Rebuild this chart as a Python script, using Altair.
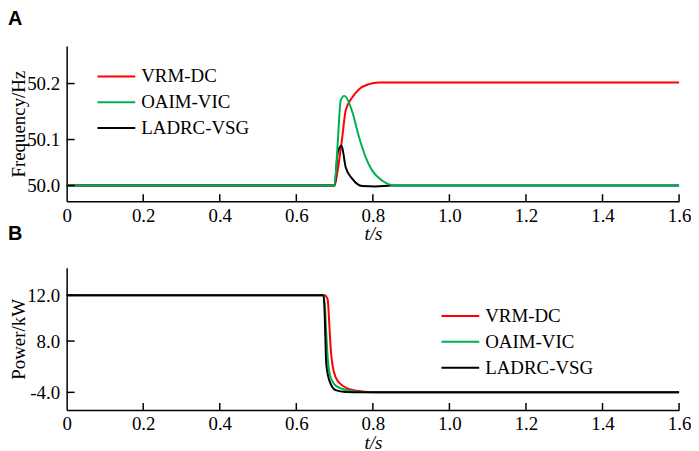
import altair as alt
import pandas as pd

series_names = ["VRM-DC", "OAIM-VIC", "LADRC-VSG"]
series_colors = ["#ff0000", "#00b050", "#000000"]

# ---- Panel A: frequency (Hz) vs t (s) ----
freq_t_vrm = [0.0, 0.700, 0.708, 0.720, 0.729, 0.746, 0.764, 0.790, 0.815, 0.850, 1.600]
freq_vrm = [50.0, 50.0, 50.033, 50.104, 50.152, 50.175, 50.190, 50.199, 50.202, 50.202, 50.202]

freq_t_oaim = [0.0, 0.700, 0.708, 0.716, 0.725, 0.735, 0.746, 0.764, 0.781, 0.798, 0.824, 0.860, 1.600]
freq_oaim = [50.0, 50.0, 50.090, 50.170, 50.178, 50.170, 50.150, 50.104, 50.062, 50.033, 50.011, 50.0, 50.0]

freq_t_ladrc = [0.0, 0.700, 0.708, 0.718, 0.729, 0.746, 0.772, 0.807, 0.850, 1.600]
freq_ladrc = [50.0, 50.0, 50.070, 50.087, 50.040, 50.015, 49.999, 49.998, 50.0, 50.0]

# ---- Panel B: power (kW) vs t (s) ----
pow_t_vrm = [0.0, 0.674, 0.682, 0.686, 0.690, 0.695, 0.703, 0.716, 0.733, 0.759, 0.790, 0.830, 1.600]
pow_vrm = [12.0, 12.0, 11.63, 9.60, 6.07, 2.19, -0.51, -2.07, -3.07, -3.63, -3.90, -4.0, -4.0]

pow_t_oaim = [0.0, 0.672, 0.677, 0.680, 0.684, 0.690, 0.699, 0.716, 0.742, 0.772, 0.820, 1.600]
pow_oaim = [12.0, 12.0, 9.60, 6.84, 2.19, -0.51, -2.07, -3.07, -3.63, -3.90, -4.0, -4.0]

pow_t_ladrc = [0.0, 0.671, 0.674, 0.676, 0.678, 0.683, 0.690, 0.703, 0.729, 0.770, 1.600]
pow_ladrc = [12.0, 12.0, 10.47, 8.15, 2.98, -0.14, -2.07, -3.47, -3.90, -4.0, -4.0]

# ---- axis ticks / labels ----
x_label_values = [0, 0.2, 0.4, 0.6, 0.8, 1.0, 1.2, 1.4, 1.6]
x_tick_values = [0.2, 0.4, 0.6, 0.8, 1.0, 1.2, 1.4, 1.6]
freq_tick_values = [50.0, 50.1, 50.2]
power_tick_values = [12.0, 8.0, -4.0]


def long_df(ts, vs):
    rows = []
    for name, t_list, v_list in zip(series_names, ts, vs):
        for t, v in zip(t_list, v_list):
            rows.append({"series": name, "t": t, "v": v})
    return pd.DataFrame(rows)


freq_df = long_df([freq_t_vrm, freq_t_oaim, freq_t_ladrc], [freq_vrm, freq_oaim, freq_ladrc])
pow_df = long_df([pow_t_vrm, pow_t_oaim, pow_t_ladrc], [pow_vrm, pow_oaim, pow_ladrc])

SERIF = "Liberation Serif"
FS = 19
W = 616

x_scale = alt.Scale(domain=[0, 1.6], nice=False, zero=False)
x_axis = alt.Axis(
    values=x_label_values,
    labelExpr="datum.value == 0 ? '0' : format(datum.value, '.1f')",
    ticks=False, grid=False, labelFlush=False, labelOverlap=False,
    labelPadding=5, labelFont=SERIF, labelFontSize=FS, labelColor="black",
    domainColor="black", domainWidth=1.5,
    title="t/s", titleFont=SERIF, titleFontSize=FS, titleFontStyle="italic",
    titleFontWeight="normal", titleColor="black", titlePadding=0,
)


def panel(df, height, y_domain, y_range, y_ticks, y_title, letter, letter_offset,
          leg_x, leg_y, draw_order):
    y_scale = alt.Scale(domain=y_domain, range=y_range, nice=False, zero=False)
    y_axis = alt.Axis(
        values=y_ticks,
        labelExpr="datum.value < 0 ? '-' + format(-datum.value, '.1f') : format(datum.value, '.1f')",
        ticks=False, grid=False, labelOverlap=False, labelFlush=False,
        labelPadding=7, labelFont=SERIF, labelFontSize=FS, labelColor="black",
        domainColor="black", domainWidth=1.5,
        title=y_title, titleFont=SERIF, titleFontSize=FS, titleFontWeight="normal",
        titleColor="black", titleX=-38, titleBaseline="bottom", titleAngle=270,
    )
    legend = alt.Legend(
        orient="none", legendX=leg_x, legendY=leg_y, title=None,
        symbolType="stroke", symbolSize=1444, symbolStrokeWidth=2,
        labelFont=SERIF, labelFontSize=FS, labelColor="black", labelOffset=5,
        rowPadding=6, padding=0, clipHeight=19,
    )
    layers = []
    for name in draw_order:
        layers.append(
            alt.Chart(df).transform_filter(alt.datum.series == name)
            .mark_line(strokeWidth=2, interpolate="monotone")
            .encode(
                x=alt.X("t:Q", scale=x_scale, axis=x_axis),
                y=alt.Y("v:Q", scale=y_scale, axis=y_axis),
                color=alt.Color("series:N",
                                scale=alt.Scale(domain=series_names, range=series_colors),
                                sort=series_names, legend=legend),
            )
        )
    xt = alt.Chart(pd.DataFrame({"t": x_tick_values})).mark_rule(
        color="black", strokeWidth=1.5
    ).encode(
        x=alt.X("t:Q", scale=x_scale, axis=x_axis),
        y=alt.value(height), y2=alt.value(height - 7),
    )
    yt = alt.Chart(pd.DataFrame({"v": y_ticks})).mark_rule(
        color="black", strokeWidth=1.5
    ).encode(
        y=alt.Y("v:Q", scale=y_scale, axis=y_axis),
        x=alt.value(0), x2=alt.value(8),
    )
    return alt.layer(*layers, xt, yt).properties(
        width=W, height=height,
        title=alt.TitleParams(
            text=letter, anchor="start", frame="group", dx=-59, offset=letter_offset,
            font="Liberation Sans", fontSize=20, fontWeight="bold", color="black",
        ),
    )


panel_a = panel(
    freq_df, 156,
    [49.966, 50.0, 50.1, 50.2, 50.267], [156, 140.3, 94, 37.7, 0],
    freq_tick_values, "Frequency/Hz", "A", 17, 30, 21,
    ["VRM-DC", "LADRC-VSG", "OAIM-VIC"],
)
panel_b = panel(
    pow_df, 143,
    [-8.12, -4.0, 8.0, 12.0, 14.41], [143, 125.3, 73.7, 27.7, 0],
    power_tick_values, "Power/kW", "B", 24, 376, 39,
    ["VRM-DC", "OAIM-VIC", "LADRC-VSG"],
)

chart = alt.vconcat(panel_a, panel_b, spacing=67, bounds="flush").resolve_scale(
    color="independent"
).properties(padding=0, background="white").configure_view(stroke=None)

chart.save("out.html", embed_options={"renderer": "svg", "actions": False})
